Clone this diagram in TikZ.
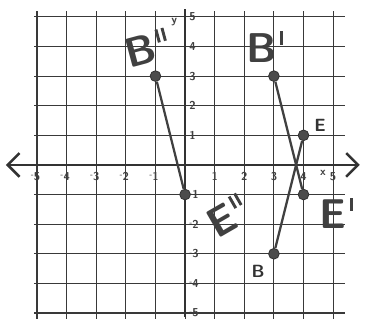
\documentclass[tikz,border=0pt]{standalone}
\usepackage{tikz}
\usetikzlibrary{arrows.meta}

\newcommand\pmk{\hspace{0.08em}\rule[0.42em]{0.07em}{0.32em}}
\newcommand\negnum[1]{\raisebox{0.5ex}{\fontsize{8}{8}\selectfont-}#1}

\begin{document}
\begin{tikzpicture}[
  x=1cm, y=1cm,
  gridline/.style = {line width=1pt, gray!45!black},
  axis/.style     = {line width=2.4pt, black!80},
  tick/.style     = {font=\sffamily\bfseries\fontsize{11}{11}\selectfont, text=black!75, inner sep=1pt},
  dot/.style      = {circle, fill=gray!60!black, draw=black!80, line width=0.8pt,
                     inner sep=0pt, minimum size=3.6mm},
  seg/.style      = {line width=2.2pt, black!75},
  biglabel/.style = {font=\sffamily\bfseries\fontsize{40}{40}\selectfont, text=black!75},
  smalllabel/.style = {font=\sffamily\bfseries\fontsize{17}{17}\selectfont, text=black!80},
]
\useasboundingbox (-6.25,-5.27) rectangle (6.11,5.57);
% grid
\foreach \x in {-5,...,5}
  \draw[gridline] (\x,-5.2) -- (\x,5.2);
\foreach \y in {-5,...,5}
  \draw[gridline] (-5.1,\y) -- (5.4,\y);
% axes
\draw[axis, {Straight Barb[length=4mm,width=8mm]}-{Straight Barb[length=4mm,width=8mm]}]
  (-6.05,0) -- (5.9,0);
\draw[axis] (0,5.25) -- (0,-5.15);
\node[tick] (ylab) at (-0.37,4.83) {y};
\node[tick] (xlab) at (4.66,-0.27) {x};
% tick labels
\foreach \x in {-5,...,-1}
  \node[tick, anchor=north] at (\x-0.05,-0.2) {\negnum{\the\numexpr-\x\relax}};
\foreach \x in {1,...,5}
  \node[tick, anchor=north] at (\x,-0.22) {\x};
\foreach \y in {1,...,5}
  \node[tick, anchor=west] at (0.1,\y) {\y};
\foreach \y in {-5,...,-1}
  \node[tick, anchor=west] at (0.1,\y) {\negnum{\the\numexpr-\y\relax}};
% points
\node[dot] (B)   at (3,-3) {};
\node[dot] (E)   at (4,1)  {};
\node[dot] (B1)  at (3,3)  {};
\node[dot] (E1)  at (4,-1) {};
\node[dot] (B2)  at (-1,3) {};
\node[dot] (E2)  at (0,-1) {};
% segments
\draw[seg] (B) -- (E);
\draw[seg] (B1) -- (E1);
\draw[seg] (B2) -- (E2);
% labels
\node[smalllabel] (labB)  at (2.47,-3.61) {B};
\node[smalllabel] (labE)  at (4.56,1.35)  {E};
\node[biglabel, rotate=15] (labB2) at (-1.3,3.95) {B\pmk\pmk};
\node[biglabel] (labB1) at (2.7,3.99) {B\pmk};
\node[biglabel, rotate=30] (labE2) at (1.4,-1.72) {E\pmk\pmk};
\node[biglabel] (labE1) at (5.1,-1.62) {E\pmk};
\end{tikzpicture}
\end{document}
